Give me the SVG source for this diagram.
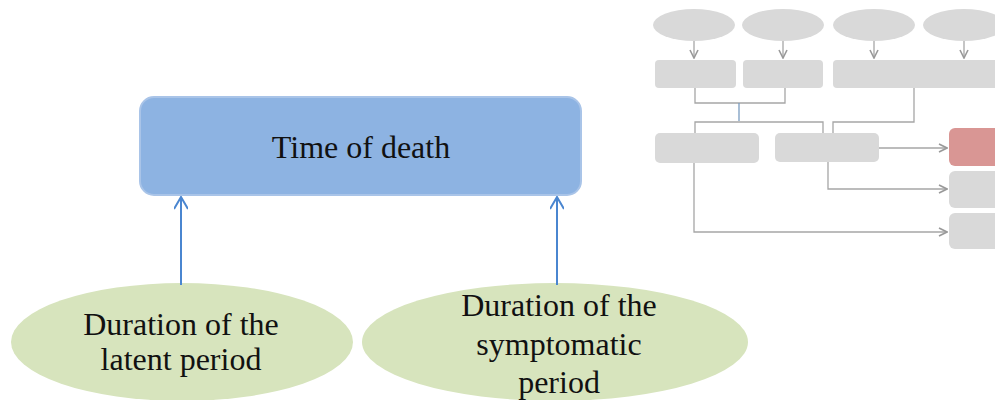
<svg xmlns="http://www.w3.org/2000/svg" width="995" height="400" viewBox="0 0 995 400">
  <style>
    .lbl { font-family: "Liberation Serif", "Times New Roman", serif; font-size: 32px; fill: #111; text-anchor: middle; }
    .cause { fill: #d7e4bd; }
    .main { fill: #8db3e2; stroke: #a9c4e8; stroke-width: 2; }
    .blue { stroke: #4a86d0; stroke-width: 2; fill: none; }
    .gshape { fill: #d9d9d9; }
    .gline { stroke: #a6a6a6; stroke-width: 1.3; fill: none; }
  </style>
  <defs>
    <marker id="blueHead" viewBox="0 0 14 14" refX="13" refY="7" markerWidth="14" markerHeight="14" markerUnits="userSpaceOnUse" orient="auto">
      <path d="M1,0 L13,7 L1,14" fill="none" stroke="#4a86d0" stroke-width="2"/>
    </marker>
    <marker id="grayHead" viewBox="0 0 10 10" refX="9" refY="5" markerWidth="10" markerHeight="10" markerUnits="userSpaceOnUse" orient="auto">
      <path d="M1,1 L9,5 L1,9" fill="none" stroke="#999999" stroke-width="1.6"/>
    </marker>
  </defs>

  <rect width="995" height="400" fill="#ffffff"/>

  <!-- small grey overview flowchart, top right -->
  <g id="overview">
    <ellipse class="gshape" cx="694" cy="25" rx="41" ry="16"/>
    <ellipse class="gshape" cx="783" cy="25" rx="41" ry="16"/>
    <ellipse class="gshape" cx="874" cy="25" rx="41" ry="16"/>
    <ellipse class="gshape" cx="964" cy="25" rx="41" ry="16"/>
    <rect class="gshape" x="655" y="60" width="81" height="28" rx="4"/>
    <rect class="gshape" x="743" y="60" width="80" height="28" rx="4"/>
    <rect class="gshape" x="833" y="60" width="170" height="28" rx="4"/>
    <rect class="gshape" x="655" y="133" width="104" height="30" rx="5"/>
    <rect class="gshape" x="775" y="133" width="104" height="29" rx="5"/>
    <rect x="949" y="128" width="56" height="38" rx="6" fill="#d99694"/>
    <rect class="gshape" x="949" y="171" width="56" height="37" rx="6"/>
    <rect class="gshape" x="949" y="213" width="56" height="36" rx="6"/>
    <g class="gline">
      <path d="M694,41 V58" marker-end="url(#grayHead)"/>
      <path d="M783,41 V58" marker-end="url(#grayHead)"/>
      <path d="M874,41 V58" marker-end="url(#grayHead)"/>
      <path d="M964,41 V58" marker-end="url(#grayHead)"/>
      <path d="M695,88 V103 H785 V88"/>
      <path d="M739,103 V121" stroke="#7a9cc0"/>
      <path d="M695,133 V122 H823 V133"/>
      <path d="M833,133 V122 H914 V88"/>
      <path d="M879,148 H947" marker-end="url(#grayHead)"/>
      <path d="M828,162 V189 H947" marker-end="url(#grayHead)"/>
      <path d="M694,163 V232 H947" marker-end="url(#grayHead)"/>
    </g>
  </g>

  <!-- main outcome -->
  <g id="time-of-death">
    <rect class="main" x="140" y="97" width="441" height="98" rx="14"/>
    <text class="lbl" x="361" y="158">Time  of death</text>
  </g>

  <!-- contributing durations -->
  <g id="latent-period">
    <ellipse class="cause" cx="182" cy="342" rx="171" ry="59"/>
    <text class="lbl" x="181" y="335">Duration of the</text>
    <text class="lbl" x="181" y="370">latent period</text>
  </g>
  <g id="symptomatic-period">
    <ellipse class="cause" cx="555" cy="342" rx="193" ry="59"/>
    <text class="lbl" x="559" y="316">Duration of the</text>
    <text class="lbl" x="559" y="355">symptomatic</text>
    <text class="lbl" x="559" y="393">period</text>
  </g>

  <g id="connectors">
    <path class="blue" d="M181,285 V197" marker-end="url(#blueHead)"/>
    <path class="blue" d="M557,285 V197" marker-end="url(#blueHead)"/>
  </g>
</svg>
